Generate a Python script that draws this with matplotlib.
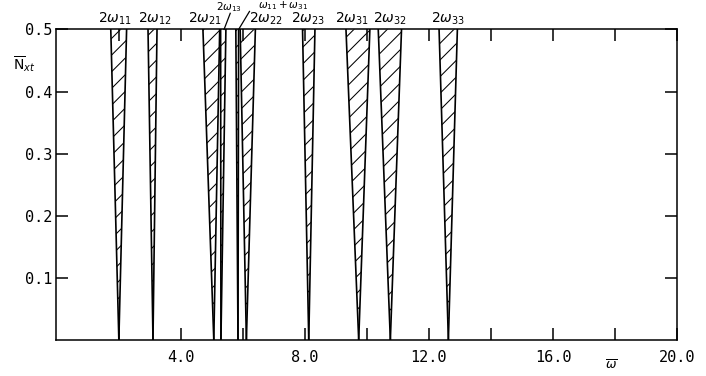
import numpy as np
import matplotlib
matplotlib.use("Agg")
from matplotlib import pyplot as plt

# instability regions: tip at N=0, left/right boundaries at N=0.5
names = [r'$2\omega_{11}$', r'$2\omega_{12}$', r'$2\omega_{21}$', r'$2\omega_{13}$',
         r'$\omega_{11}+\omega_{31}$', r'$2\omega_{22}$', r'$2\omega_{23}$',
         r'$2\omega_{31}$', r'$2\omega_{32}$', r'$2\omega_{33}$']
tip = [2.01, 3.11, 5.07, 5.30, 5.85, 6.12, 8.13, 9.74, 10.76, 12.63]
left_top = [1.75, 2.95, 4.72, 5.29, 5.78, 5.92, 7.93, 9.33, 10.37, 12.33]
right_top = [2.26, 3.24, 5.26, 5.46, 5.87, 6.41, 8.33, 10.10, 11.12, 12.92]
label_x = [1.90, 3.18, 4.77, 5.56, 7.30, 6.75, 8.12, 9.52, 10.74, 12.62]

n_top = 0.5
yticks = [0.1, 0.2, 0.3, 0.4, 0.5]
xticks = [4.0, 8.0, 12.0, 16.0, 20.0]

plt.rcParams['hatch.linewidth'] = 0.75
plt.rcParams['mathtext.fontset'] = 'dejavusans'

fig = plt.figure(figsize=(7.06, 3.76), dpi=100)
ax = fig.add_axes([0.080, 0.0957, 0.879, 0.826])

N = np.array([0.0, n_top])
for i in range(len(tip)):
    xl = np.array([tip[i], left_top[i]])
    xr = np.array([tip[i], right_top[i]])
    ax.fill_betweenx(N, xl, xr, facecolor='white', edgecolor='black',
                     hatch='//', linewidth=0)
    ax.plot(xl, N, color='black', lw=1.2)
    ax.plot(xr, N, color='black', lw=1.2)

# labels above the frame
tr = ax.get_xaxis_transform()
for i in range(len(names)):
    if i == 3:
        y, fs = 1.050, 7.5
    elif i == 4:
        y, fs = 1.056, 7.5
    else:
        y, fs = 1.008, 10
    ax.text(label_x[i], y, names[i], transform=tr, ha='center', va='bottom',
            fontsize=fs, clip_on=False)
ax.plot([5.40, 5.60], [1.0, 1.052], transform=tr, color='black', lw=0.9, clip_on=False)
ax.plot([5.87, 6.22], [1.0, 1.058], transform=tr, color='black', lw=0.9, clip_on=False)

ax.set_xlim(0, 20)
ax.set_ylim(0, 0.5)
ax.set_xticks(xticks)
ax.set_xticklabels(['%.1f' % v for v in xticks])
ax.set_xticks(np.arange(2, 20, 4), minor=True)
ax.set_yticks(yticks)
ax.set_yticklabels(['%.1f' % v for v in yticks])
ax.tick_params(which='both', direction='in', length=8.5, width=1.1,
               top=True, right=True, labelsize=11)
ax.tick_params(axis='x', pad=7)
ax.tick_params(axis='y', pad=3)
for lab in ax.get_xticklabels() + ax.get_yticklabels():
    lab.set_family('DejaVu Sans Mono')
for s in ax.spines.values():
    s.set_linewidth(1.1)

fig.text(24 / 706, 1 - 64 / 376, r'$\overline{\mathrm{N}}_{xt}$', ha='center', va='center', fontsize=10)
fig.text(611 / 706, 1 - 366 / 376, r'$\overline{\omega}$', ha='center', va='center', fontsize=9)

fig.savefig('out.png', dpi=100)
